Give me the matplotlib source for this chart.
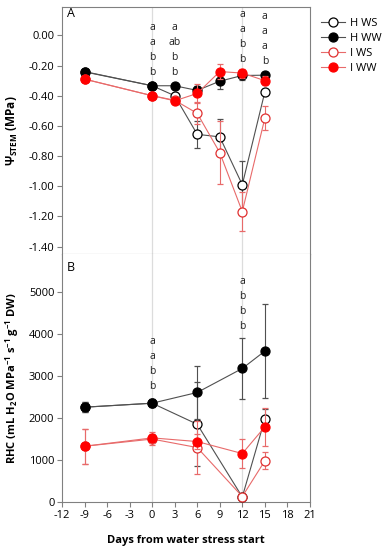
import numpy as np
import matplotlib.pyplot as plt
from matplotlib.lines import Line2D

plt.rcParams['font.family'] = ['Open Sans', 'DejaVu Sans']
plt.rcParams['mathtext.fontset'] = 'custom'
plt.rcParams['mathtext.rm'] = 'Open Sans:bold'
plt.rcParams['mathtext.bf'] = 'Open Sans:bold'
plt.rcParams['mathtext.default'] = 'rm'
plt.rcParams['axes.unicode_minus'] = False

days = [-9, 0, 3, 6, 9, 12, 15]
days_rhc = [-9, 0, 6, 12, 15]

# stem water potential (MPa)
psi_hws = [-0.24, -0.334, -0.40, -0.656, -0.673, -0.99, -0.376]
psi_hws_err = [0.02, 0.02, 0.02, 0.09, 0.12, 0.16, 0.02]
psi_hww = [-0.242, -0.334, -0.334, -0.365, -0.304, -0.266, -0.264]
psi_hww_err = [0.02, 0.02, 0.02, 0.03, 0.05, 0.03, 0.02]
psi_iws = [-0.29, -0.40, -0.43, -0.517, -0.777, -1.168, -0.55]
psi_iws_err = [0.02, 0.02, 0.02, 0.07, 0.21, 0.13, 0.08]
psi_iww = [-0.29, -0.40, -0.434, -0.385, -0.24, -0.25, -0.30]
psi_iww_err = [0.02, 0.02, 0.02, 0.06, 0.05, 0.03, 0.03]

# root hydraulic conductance
rhc_hws = [2260, 2355, 1854, 120, 1974]
rhc_hws_err = [120, 100, 1000, 60, 250]
rhc_hww = [2260, 2355, 2611, 3183, 3597]
rhc_hww_err = [120, 100, 635, 735, 1115]
rhc_iws = [1329, 1500, 1298, 130, 980]
rhc_iws_err = [420, 130, 640, 60, 200]
rhc_iww = [1329, 1528, 1441, 1155, 1790]
rhc_iww_err = [420, 130, 175, 340, 460]

# significance letters: (day, letters)
letters_psi = [(0, ['a', 'a', 'b', 'b']), (3, ['a', 'ab', 'b', 'b']),
               (12, ['a', 'a', 'b', 'b']), (15, ['a', 'a', 'a', 'b'])]
letters_psi_y = {0: 0.053, 3: 0.053, 12: 0.139, 15: 0.125}
letters_rhc = [(0, ['a', 'a', 'b', 'b']), (12, ['a', 'b', 'b', 'b'])]
letters_rhc_y = {0: 3819, 12: 5250}

labels = ['H WS', 'H WW', 'I WS', 'I WW']
blk_line = '#505050'
red_line = '#e86a6a'
styles = [
    dict(color=blk_line, mfc='white', mec='black', ecolor=blk_line),
    dict(color=blk_line, mfc='black', mec='black', ecolor=blk_line),
    dict(color=red_line, mfc='white', mec='#e03030', ecolor=red_line),
    dict(color=red_line, mfc='#ff0000', mec='#ff0000', ecolor=red_line),
]
spine_c = '#808080'

fig = plt.figure(figsize=(3.84, 5.5), dpi=100)
ax1 = fig.add_axes([0.1615, 0.538, 0.6455, 0.449])
ax2 = fig.add_axes([0.1615, 0.0873, 0.6455, 0.4507])


def draw(ax, x, series, errs):
    for i, (y, e) in enumerate(zip(series, errs)):
        st = styles[i]
        ax.errorbar(x, y, yerr=e, fmt='-o', color=st['color'], mfc=st['mfc'],
                    mec=st['mec'], ecolor=st['ecolor'], elinewidth=0.8,
                    capsize=2.5, capthick=0.8, lw=0.8, ms=6.5, mew=0.9,
                    zorder=3 + i)


draw(ax1, days, [psi_hws, psi_hww, psi_iws, psi_iww],
     [psi_hws_err, psi_hww_err, psi_iws_err, psi_iww_err])
draw(ax2, days_rhc, [rhc_hws, rhc_hww, rhc_iws, rhc_iww],
     [rhc_hws_err, rhc_hww_err, rhc_iws_err, rhc_iww_err])

for ax in (ax1, ax2):
    ax.set_xlim(-12, 21)
    ax.set_xticks(np.arange(-12, 22, 3))
    for d in (0, 12):
        ax.axvline(d, color='#dcdcdc', lw=0.9, zorder=1)
    for s in ax.spines.values():
        s.set_color(spine_c)
    ax.tick_params(direction='out', length=3.5, color=spine_c, labelsize=8, pad=2)

psi_ticks = np.round(np.arange(-1.4, 0.01, 0.2), 2)
ax1.set_ylim(-1.45, 0.187)
ax1.set_yticks(psi_ticks)
ax1.set_yticklabels(['%.2f' % abs(v) if v == 0 else '%.2f' % v for v in psi_ticks])
ax1.tick_params(axis='x', labelbottom=False)
ax1.set_ylabel('Ψ$_{\\mathrm{STEM}}$ (MPa)', fontweight='bold', fontsize=8.5, labelpad=6)
ax1.text(-11.4, 0.145, 'A', fontsize=9, va='center')

ax2.set_ylim(0, 5910)
ax2.set_yticks(np.arange(0, 5001, 1000))
ax2.spines['top'].set_visible(False)
ax2.set_ylabel('RHC (mL H$_2$O MPa$^{-1}$ s$^{-1}$ g$^{-1}$ DW)', fontweight='bold',
               fontsize=8, labelpad=6)
ax2.set_xlabel('Days from water stress start', fontweight='bold', fontsize=8, labelpad=10)
ax2.text(-11.4, 5580, 'B', fontsize=9, va='center')

for d, lets in letters_psi:
    for k, t in enumerate(lets):
        ax1.text(d, letters_psi_y[d] - k * 0.099, t, fontsize=7.5, ha='center',
                 va='center', color='#202020')
for d, lets in letters_rhc:
    for k, t in enumerate(lets):
        ax2.text(d, letters_rhc_y[d] - k * 358, t, fontsize=7.5, ha='center',
                 va='center', color='#202020')

handles = [Line2D([], [], marker='o', color=st['color'], mfc=st['mfc'], mec=st['mec'],
                  lw=0.8, ms=6.5, mew=0.9) for st in styles]
fig.legend(handles=handles, labels=labels, loc='upper left', bbox_to_anchor=(0.81, 0.985),
           frameon=False, fontsize=8, handlelength=2.2, handletextpad=0.4,
           labelspacing=0.35)

fig.savefig('out.png', dpi=100)
